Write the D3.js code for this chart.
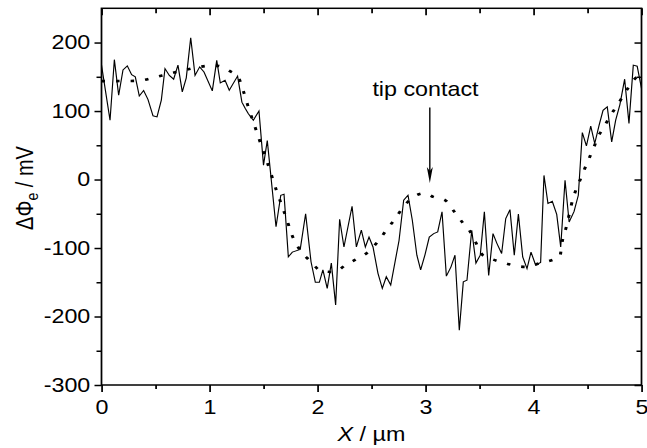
<!DOCTYPE html>
<html>
<head>
<meta charset="utf-8">
<script src="https://cdn.jsdelivr.net/npm/d3@7"></script>
<style>
    body { margin: 0; background: #fff; }
    text { font-family: "Liberation Sans", Arial, sans-serif; fill: #000; }
</style>
</head>
<body>
<div id="chart"></div>
<script>
    // measured profile (solid line)
    var xProfile = [0, 0.079, 0.119, 0.159, 0.199, 0.239, 0.279, 0.313, 0.35, 0.39, 0.43, 0.477, 0.514, 0.554, 0.588,
        0.628, 0.668, 0.708, 0.748, 0.785, 0.826, 0.866, 0.909, 0.949, 1.026, 1.067, 1.10, 1.144, 1.183, 1.26,
        1.30, 1.33, 1.36, 1.406, 1.458, 1.50, 1.535, 1.616, 1.66, 1.69, 1.73, 1.767, 1.84, 1.89, 1.94, 1.98,
        2.017, 2.05, 2.09, 2.128, 2.168, 2.205, 2.245, 2.32, 2.36, 2.406, 2.443, 2.477, 2.514, 2.56, 2.6, 2.637,
        2.678, 2.755, 2.798, 2.838, 2.878, 2.92, 2.955, 2.995, 3.035, 3.076, 3.113, 3.153, 3.193, 3.236, 3.273,
        3.313, 3.35, 3.384, 3.428, 3.467, 3.507, 3.545, 3.585, 3.625, 3.662, 3.705, 3.743, 3.782, 3.822, 3.86,
        3.9, 3.94, 3.977, 4.02, 4.066, 4.097, 4.134, 4.174, 4.215, 4.252, 4.292, 4.33, 4.375, 4.415, 4.452, 4.49,
        4.53, 4.567, 4.607, 4.644, 4.683, 4.724, 4.761, 4.8, 4.844, 4.884, 4.924, 4.96, 5.0];
    var yProfile = [167, 86.5, 175, 123, 160, 166, 153, 150, 122, 130, 117, 93, 91.5, 116, 162,
        152, 146.5, 167, 128, 148.5, 207, 152, 164.5, 157, 129.5, 174, 141, 145, 130.5, 151,
        113, 104, 96, 86.6, 100, 21, 57, -69, -23, -21.5, -113, -106, -102, -50, -120, -150,
        -150, -132, -159, -122, -183, -58, -98.5, -39, -98.5, -74, -98.5, -84, -98.5, -137, -159, -142,
        -154, -89, -30, -23, -59.5, -110.5, -132, -110, -84, -79, -76.5, -47, -141, -127.5, -110.5,
        -220, -149.5, -147, -74, -122, -110.5, -47, -140, -79, -93.5, -108, -57, -44, -110.5, -50.5,
        -113, -130, -106, -125, -121, 6, -35, -31.7, -51, -98.5, -1, -62, -47, -23, 68.6, 49,
        78, 52.6, 79, 101, 106, 55, 86.6, 109.5, 146.5, 82, 167, 165.5, 133];

    // fitted profile (dotted line)
    var xFit = [0, 0.3, 0.378, 0.51, 0.64, 0.776, 0.91, 1.0, 1.07, 1.18, 1.267, 1.313, 1.354, 1.4, 1.443, 1.489,
        1.535, 1.579, 1.622, 1.669, 1.715, 1.761, 1.838, 1.933, 2.035, 2.153, 2.267, 2.4, 2.468, 2.567, 2.637,
        2.72, 2.8, 2.94, 3.0, 3.072, 3.18, 3.267, 3.354, 3.405, 3.468, 3.53, 3.585, 3.715, 3.854, 3.93, 4.06,
        4.183, 4.243, 4.267, 4.304, 4.335, 4.366, 4.39, 4.443, 4.498, 4.551, 4.606, 4.644, 4.715, 4.792, 4.869,
        4.952, 5.0];
    var yFit = [143.6, 144, 145, 150, 155, 160, 164.5, 166, 166, 159, 149, 129.5, 108.5, 86.6, 67, 45,
        25, 4, -17, -37.5, -58, -80, -103, -119, -133.5, -135, -124, -113, -106, -89, -74,
        -57, -39, -21.5, -20, -25.4, -30, -47, -65, -74, -92.6, -110.5, -114.5, -121, -126.6, -127.6, -122,
        -117, -113, -90, -69, -48, -27, -16.6, 3.8, 24.8, 44, 65, 74.5, 94, 112.5, 132,
        149, 152];

    var xTicks = [0, 1, 2, 3, 4, 5];
    var xMinor = [0.5, 1.5, 2.5, 3.5, 4.5];
    var yTicks = [-300, -200, -100, 0, 100, 200];
    var yMinor = [-250, -150, -50, 50, 150];

    // the picture is a bit wider than tall, so draw in a narrower box and stretch it
    var S = 1.165,
        W = 647 / S,
        H = 448;

    var svg = d3.select('#chart').append('svg')
        .attr('width', 647)
        .attr('height', H)
        .attr('viewBox', '0 0 ' + W + ' ' + H)
        .attr('preserveAspectRatio', 'none');

    var x = d3.scaleLinear().domain([0, 5]).range([101.5 / S, 641.5 / S]);
    var y = d3.scaleLinear().domain([-300, 250]).range([385, 8.3]);

    function styleAxis(g) {
        g.select('.domain').remove();
        g.selectAll('.tick line').attr('stroke', '#000').attr('stroke-width', 1.5);
        g.selectAll('.tick text').style('font-size', '20px').attr('font-family', null);
    }

    // bottom
    svg.append('g').attr('transform', 'translate(0,' + y(-300) + ')')
        .call(d3.axisBottom(x).tickValues(xTicks).tickSize(7).tickFormat(d3.format('d')))
        .call(styleAxis)
        .call(function(g) { g.selectAll('.tick text').attr('y', 29.5).attr('dy', null); });
    svg.append('g').attr('transform', 'translate(0,' + y(-300) + ')')
        .call(d3.axisBottom(x).tickValues(xMinor).tickSize(4).tickFormat(''))
        .call(styleAxis);

    // top (inward)
    svg.append('g').attr('transform', 'translate(0,' + y(250) + ')')
        .call(d3.axisTop(x).tickValues(xTicks).tickSize(-7).tickFormat(''))
        .call(styleAxis);
    svg.append('g').attr('transform', 'translate(0,' + y(250) + ')')
        .call(d3.axisTop(x).tickValues(xMinor).tickSize(-5).tickFormat(''))
        .call(styleAxis);

    // left
    svg.append('g').attr('transform', 'translate(' + x(0) + ',0)')
        .call(d3.axisLeft(y).tickValues(yTicks).tickSize(7 / S).tickPadding(3.6)
            .tickFormat(function(d) { return String(d); }))
        .call(styleAxis);
    svg.append('g').attr('transform', 'translate(' + x(0) + ',0)')
        .call(d3.axisLeft(y).tickValues(yMinor).tickSize(5 / S).tickFormat(''))
        .call(styleAxis);

    // right (inward)
    svg.append('g').attr('transform', 'translate(' + x(5) + ',0)')
        .call(d3.axisRight(y).tickValues(yTicks).tickSize(-7 / S).tickFormat(''))
        .call(styleAxis);
    svg.append('g').attr('transform', 'translate(' + x(5) + ',0)')
        .call(d3.axisRight(y).tickValues(yMinor).tickSize(-5 / S).tickFormat(''))
        .call(styleAxis);

    // frame
    svg.append('rect')
        .attr('x', x(0)).attr('y', y(250))
        .attr('width', x(5) - x(0)).attr('height', y(-300) - y(250))
        .attr('fill', 'none').attr('stroke', '#000').attr('stroke-width', 1.5);

    var line = d3.line()
        .x(function(d) { return x(d[0]); })
        .y(function(d) { return y(d[1]); });

    svg.append('path')
        .datum(d3.zip(xProfile, yProfile))
        .attr('d', line)
        .attr('fill', 'none')
        .attr('stroke', '#000')
        .attr('stroke-width', 1)
        .attr('stroke-linejoin', 'miter');

    svg.append('path')
        .datum(d3.zip(xFit, yFit))
        .attr('d', line.curve(d3.curveMonotoneX))
        .attr('fill', 'none')
        .attr('stroke', '#000')
        .attr('stroke-width', 2.6)
        .attr('stroke-dasharray', '3,9.5');

    // annotation
    svg.append('text')
        .attr('x', x(3)).attr('y', 96)
        .attr('text-anchor', 'middle')
        .style('font-size', '20px')
        .text('tip contact');

    var ax = x(3.04), aTop = y(105), aTip = y(-5);
    svg.append('line')
        .attr('x1', ax).attr('x2', ax)
        .attr('y1', aTop).attr('y2', aTip - 10)
        .attr('stroke', '#000').attr('stroke-width', 1.2);
    svg.append('path')
        .attr('d', 'M' + ax + ',' + aTip + 'L' + (ax - 3 / S) + ',' + (aTip - 16) +
            'L' + ax + ',' + (aTip - 12) + 'L' + (ax + 3 / S) + ',' + (aTip - 16) + 'Z')
        .attr('fill', '#000');

    // axis titles
    var xt = svg.append('text')
        .attr('x', x(2.5)).attr('y', 441)
        .attr('text-anchor', 'middle')
        .style('font-size', '20px');
    xt.append('tspan').style('font-style', 'italic').text('X');
    xt.append('tspan').text(' / µm');

    var yt = svg.append('text')
        .attr('transform', 'translate(' + (33 / S) + ',188) rotate(-90)')
        .attr('text-anchor', 'middle')
        .style('font-size', '20px');
    yt.append('tspan').text('ΔΦ');
    yt.append('tspan').attr('dy', 4.3).style('font-size', '14px').text('e');
    yt.append('tspan').attr('dy', -4.3).text(' / mV');
</script>
</body>
</html>
